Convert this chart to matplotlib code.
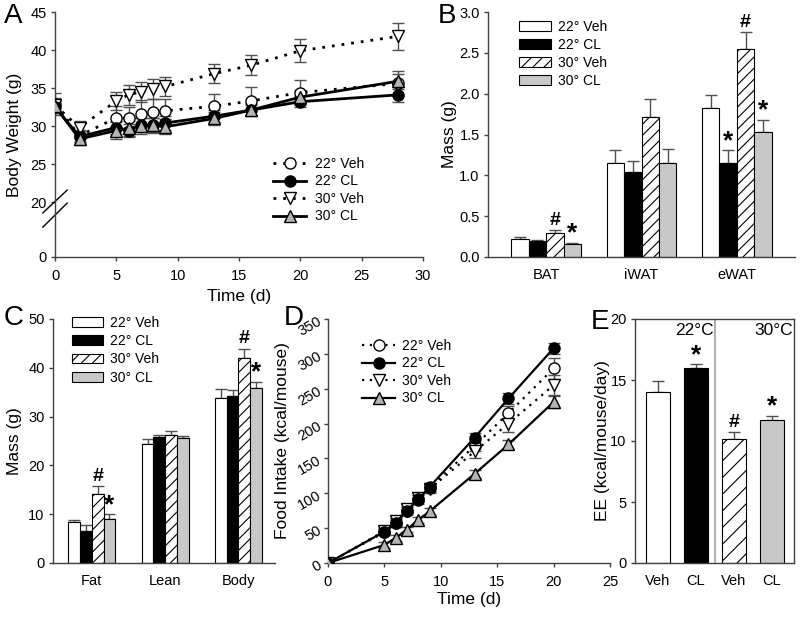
import matplotlib
matplotlib.use("Agg")
import matplotlib.pyplot as plt
import numpy as np
from matplotlib import lines as mlines
from matplotlib import patches as mpatches

plt.rcParams['font.family'] = ['Liberation Sans', 'DejaVu Sans']
plt.rcParams['hatch.linewidth'] = 0.8

# ---- panel A: body weight over time ----
bw_days = [0, 2, 5, 6, 7, 8, 9, 13, 16, 20, 28]
bw_22_veh = [32.9, 28.7, 31.1, 31.0, 31.6, 31.8, 32.0, 32.6, 33.3, 34.4, 35.6]
bw_22_veh_err = [1.5, 0.8, 1.5, 1.5, 1.8, 1.7, 1.5, 1.6, 1.8, 1.6, 1.6]
bw_22_cl = [32.5, 28.6, 29.8, 29.4, 30.1, 30.1, 30.4, 31.3, 32.1, 33.2, 34.1]
bw_22_cl_err = [0.8, 0.7, 0.9, 0.8, 0.9, 0.9, 0.9, 0.8, 0.7, 0.7, 1.0]
bw_30_veh = [32.7, 29.8, 33.3, 34.1, 34.5, 34.9, 35.2, 36.9, 38.0, 39.9, 41.8]
bw_30_veh_err = [1.0, 0.9, 1.2, 1.3, 1.3, 1.3, 1.3, 1.3, 1.3, 1.5, 1.8]
bw_30_cl = [32.6, 28.3, 29.4, 29.7, 30.0, 30.1, 29.9, 31.0, 32.1, 33.8, 35.9]
bw_30_cl_err = [0.8, 0.8, 1.1, 1.0, 1.0, 1.0, 1.0, 0.9, 0.8, 0.9, 1.0]

# ---- panel B: tissue mass ----
tissue_names = ["BAT", "iWAT", "eWAT"]
tissue_22_veh = [0.225, 1.145, 1.82]
tissue_22_veh_err = [0.025, 0.165, 0.16]
tissue_22_cl = [0.19, 1.035, 1.145]
tissue_22_cl_err = [0.02, 0.145, 0.16]
tissue_30_veh = [0.29, 1.72, 2.55]
tissue_30_veh_err = [0.04, 0.22, 0.2]
tissue_30_cl = [0.165, 1.145, 1.53]
tissue_30_cl_err = [0.01, 0.175, 0.15]

# ---- panel C: body composition ----
comp_names = ["Fat", "Lean", "Body"]
comp_22_veh = [8.3, 24.3, 33.9]
comp_22_veh_err = [0.6, 1.1, 1.7]
comp_22_cl = [6.6, 25.9, 34.2]
comp_22_cl_err = [1.2, 0.4, 1.2]
comp_30_veh = [14.2, 26.3, 42.0]
comp_30_veh_err = [1.6, 0.8, 1.9]
comp_30_cl = [9.0, 25.6, 35.9]
comp_30_cl_err = [1.0, 0.4, 1.2]

# ---- panel D: cumulative food intake ----
fi_days = [0, 5, 6, 7, 8, 9, 13, 16, 20]
fi_22_veh = [0, 44, 57, 75, 90, 108, 168, 215, 279]
fi_22_veh_err = [0, 4, 5, 5, 5, 6, 8, 10, 15]
fi_22_cl = [0, 45, 58, 75, 92, 109, 180, 236, 308]
fi_22_cl_err = [0, 4, 5, 5, 5, 6, 7, 8, 8]
fi_30_veh = [0, 46, 60, 78, 93, 106, 160, 200, 255]
fi_30_veh_err = [0, 4, 5, 5, 5, 6, 10, 12, 14]
fi_30_cl = [0, 26, 36, 48, 62, 74, 128, 170, 231]
fi_30_cl_err = [0, 4, 4, 4, 4, 5, 6, 6, 8]

# ---- panel E: energy expenditure ----
ee_labels = ["Veh", "CL", "Veh", "CL"]
ee_values = [14.0, 15.95, 10.2, 11.75]
ee_err = [0.9, 0.35, 0.5, 0.3]

group_labels = ["22° Veh", "22° CL", "30° Veh", "30° CL"]
GRAY = "#c8c8c8"
AXCOL = "#404040"
W, H = 800, 620


def px_axes(fig, left, top, right, bottom):
    return fig.add_axes([left / W, 1 - bottom / H, (right - left) / W, (bottom - top) / H])


def style_axes(ax, box=False):
    for side in ("left", "bottom", "top", "right"):
        ax.spines[side].set_color(AXCOL)
        ax.spines[side].set_linewidth(1.0)
    if not box:
        ax.spines["top"].set_visible(False)
        ax.spines["right"].set_visible(False)
    ax.tick_params(axis="both", colors=AXCOL, labelcolor="black", labelsize=10.5,
                   direction="out", length=3, width=1)
    ax.tick_params(axis="y", pad=3)
    ax.tick_params(axis="x", pad=6)


def panel_letter(fig, x, y, letter):
    fig.text(x / W, 1 - y / H, letter, fontsize=20, ha="left", va="top")


def line_series(ax, x, y, err, marker, face, dotted, lw, ms):
    ls = (0, (1, 2.5)) if dotted else "-"
    ax.errorbar(x, y, yerr=err, fmt="none", ecolor="#505050", elinewidth=1,
                capsize=4, capthick=1, zorder=2)
    ax.plot(x, y, linestyle=ls, color="black", linewidth=lw, marker=marker,
            markersize=ms, markerfacecolor=face, markeredgecolor="black",
            markeredgewidth=1, zorder=3)


def line_handles(lw, ms):
    specs = [("o", "white", True), ("o", "black", False),
             ("v", "white", True), ("^", "#b4b4b4", False)]
    handles = []
    for (marker, face, dotted), label in zip(specs, group_labels):
        ls = (0, (1, 2.5)) if dotted else "-"
        handles.append(mlines.Line2D([], [], linestyle=ls, color="black", linewidth=lw,
                                     marker=marker, markersize=ms, markerfacecolor=face,
                                     markeredgecolor="black", markeredgewidth=1, label=label))
    return handles


def bar_handles():
    faces = ["white", "black", "white", GRAY]
    hatches = [None, None, "///", None]
    return [mpatches.Patch(facecolor=f, edgecolor="black", linewidth=0.8, hatch=h, label=l)
            for f, h, l in zip(faces, hatches, group_labels)]


def grouped_bars(ax, series, errs, width, hatch):
    faces = ["white", "black", "white", GRAY]
    hatches = [None, None, hatch, None]
    n = len(series[0])
    x = np.arange(n)
    offsets = (np.arange(4) - 1.5) * width
    tops = []
    for i in range(4):
        xs = x + offsets[i]
        ax.bar(xs, series[i], width=width, color=faces[i], edgecolor="black",
               linewidth=0.8, hatch=hatches[i], zorder=2)
        ax.errorbar(xs, series[i], yerr=[np.zeros(n), errs[i]], fmt="none",
                    ecolor="#505050", elinewidth=1, capsize=4, capthick=1, zorder=1)
        tops.append((xs, np.array(series[i]) + np.array(errs[i])))
    return tops


def mark(ax, x, y, sym):
    size = 19 if sym == "*" else 14
    dy = -2 if sym == "*" else 1
    ax.annotate(sym, (x, y), xytext=(0, dy), textcoords="offset points",
                ha="center", va="bottom", fontsize=size, fontweight="bold")


fig = plt.figure(figsize=(8, 6.2), dpi=100)

# ---------------- A ----------------
ax = px_axes(fig, 55, 12, 423, 257)
style_axes(ax)


def fwd(y):
    y = np.asarray(y, dtype=float)
    return np.where(y < 20, y * 0.3618, y - 12.764)


def inv(z):
    z = np.asarray(z, dtype=float)
    return np.where(z < 7.236, z / 0.3618, z + 12.764)


ax.set_yscale("function", functions=(fwd, inv))
line_series(ax, bw_days, bw_22_veh, bw_22_veh_err, "o", "white", True, 2, 8)
line_series(ax, bw_days, bw_30_veh, bw_30_veh_err, "v", "white", True, 2, 8)
line_series(ax, bw_days, bw_22_cl, bw_22_cl_err, "o", "black", False, 2, 8)
line_series(ax, bw_days, bw_30_cl, bw_30_cl_err, "^", "#b4b4b4", False, 2, 8)
ax.set_xlim(0, 30)
ax.set_ylim(0, 45)
ax.set_xticks([0, 5, 10, 15, 20, 25, 30])
ax.set_yticks([0, 20, 25, 30, 35, 40, 45])
ax.set_xlabel("Time (d)", fontsize=12.5)
ax.set_ylabel("Body Weight (g)", fontsize=12.5)
ax.xaxis.set_label_coords(0.5, -0.13)
ax.yaxis.set_label_coords(-0.09, 0.5)
# axis break marks
ax.plot([-0.033, 0.033], [0.18, 0.273], color="black", lw=1, transform=ax.transAxes, clip_on=False)
ax.plot([-0.033, 0.033], [0.122, 0.22], color="black", lw=1, transform=ax.transAxes, clip_on=False)
ax.legend(handles=line_handles(2, 8), loc="upper left", frameon=False, fontsize=10,
          bbox_to_anchor=(273 / W, 1 - 157 / H), bbox_transform=fig.transFigure,
          borderaxespad=0, borderpad=0, handlelength=2.4, handletextpad=0.6,
          labelspacing=0.25, numpoints=1)
panel_letter(fig, 4, 3, "A")

# ---------------- B ----------------
ax = px_axes(fig, 488, 12, 795, 257)
style_axes(ax)
tops = grouped_bars(ax, [tissue_22_veh, tissue_22_cl, tissue_30_veh, tissue_30_cl],
                    [tissue_22_veh_err, tissue_22_cl_err, tissue_30_veh_err, tissue_30_cl_err],
                    0.182, "///")
ax.set_xlim(-0.61, 2.61)
ax.set_ylim(0, 3.0)
ax.set_yticks(np.arange(0, 3.01, 0.5))
ax.set_yticklabels([f"{v:.1f}" for v in np.arange(0, 3.01, 0.5)])
ax.set_xticks(range(len(tissue_names)))
ax.set_xticklabels(tissue_names)
ax.tick_params(axis="x", length=0, pad=8)
ax.set_ylabel("Mass (g)", fontsize=12.5)
ax.yaxis.set_label_coords(-0.10, 0.5)
mark(ax, tops[2][0][0], tops[2][1][0], "#")
mark(ax, tops[3][0][0], tops[3][1][0], "*")
mark(ax, tops[1][0][2], tops[1][1][2], "*")
mark(ax, tops[2][0][2], tops[2][1][2], "#")
mark(ax, tops[3][0][2], tops[3][1][2], "*")
ax.legend(handles=bar_handles(), loc="upper left", frameon=False, fontsize=10,
          bbox_to_anchor=(519 / W, 1 - 20 / H), bbox_transform=fig.transFigure,
          borderaxespad=0, borderpad=0, handlelength=2.3, handletextpad=0.5,
          labelspacing=0.28)
panel_letter(fig, 438, 3, "B")

# ---------------- C ----------------
ax = px_axes(fig, 53, 319, 275, 563)
style_axes(ax)
tops = grouped_bars(ax, [comp_22_veh, comp_22_cl, comp_30_veh, comp_30_cl],
                    [comp_22_veh_err, comp_22_cl_err, comp_30_veh_err, comp_30_cl_err],
                    0.16, "///")
ax.set_xlim(-0.53, 2.5)
ax.set_ylim(0, 50)
ax.set_yticks([0, 10, 20, 30, 40, 50])
ax.set_xticks(range(len(comp_names)))
ax.set_xticklabels(comp_names)
ax.tick_params(axis="x", length=0, pad=8)
ax.set_ylabel("Mass (g)", fontsize=12.5)
ax.yaxis.set_label_coords(-0.14, 0.5)
mark(ax, tops[2][0][0], tops[2][1][0], "#")
mark(ax, tops[3][0][0], tops[3][1][0], "*")
mark(ax, tops[2][0][2], tops[2][1][2], "#")
mark(ax, tops[3][0][2], tops[3][1][2], "*")
ax.legend(handles=bar_handles(), loc="upper left", frameon=False, fontsize=10,
          bbox_to_anchor=(72 / W, 1 - 316 / H), bbox_transform=fig.transFigure,
          borderaxespad=0, borderpad=0, handlelength=2.2, handletextpad=0.55,
          labelspacing=0.3)
panel_letter(fig, 4, 305, "C")

# ---------------- D ----------------
ax = px_axes(fig, 328, 319, 610, 563)
style_axes(ax)
line_series(ax, fi_days, fi_22_veh, fi_22_veh_err, "o", "white", True, 1.6, 8)
line_series(ax, fi_days, fi_30_veh, fi_30_veh_err, "v", "white", True, 1.6, 8)
line_series(ax, fi_days, fi_22_cl, fi_22_cl_err, "o", "black", False, 1.6, 8)
line_series(ax, fi_days, fi_30_cl, fi_30_cl_err, "^", "#b4b4b4", False, 1.6, 8)
ax.set_xlim(0, 25)
ax.set_ylim(0, 350)
ax.set_xticks([0, 5, 10, 15, 20, 25])
ax.set_yticks(range(0, 351, 50))
for lab in ax.get_yticklabels():
    lab.set_rotation(30)
    lab.set_rotation_mode("anchor")
    lab.set_ha("right")
ax.set_xlabel("Time (d)", fontsize=12.5)
ax.set_ylabel("Food Intake (kcal/mouse)", fontsize=12.5)
ax.xaxis.set_label_coords(0.5, -0.12)
ax.yaxis.set_label_coords(-0.135, 0.5)
ax.legend(handles=line_handles(1.6, 8), loc="upper left", frameon=False, fontsize=10,
          bbox_to_anchor=(362 / W, 1 - 339 / H), bbox_transform=fig.transFigure,
          borderaxespad=0, borderpad=0, handlelength=2.4, handletextpad=0.5,
          labelspacing=0.25, numpoints=1)
panel_letter(fig, 284, 305, "D")

# ---------------- E ----------------
ax = px_axes(fig, 635, 319, 794, 563)
style_axes(ax, box=True)
ee_x = np.arange(len(ee_values))
faces = ["white", "black", "white", GRAY]
hatches = [None, None, "//", None]
for i in range(len(ee_values)):
    ax.bar(ee_x[i], ee_values[i], width=0.63, color=faces[i], edgecolor="black",
           linewidth=0.8, hatch=hatches[i], zorder=2)
ax.errorbar(ee_x, ee_values, yerr=[np.zeros(len(ee_err)), ee_err], fmt="none",
            ecolor="#505050", elinewidth=1, capsize=4, capthick=1, zorder=1)
ax.axvline(1.5, color="#a0a0a0", lw=1.2)
ax.set_xlim(-0.6, 3.58)
ax.set_ylim(0, 20)
ax.set_yticks([0, 5, 10, 15, 20])
ax.set_xticks(ee_x)
ax.set_xticklabels(ee_labels)
ax.tick_params(axis="x", length=0, pad=8)
ax.tick_params(axis="y", right=False)
ax.set_ylabel("EE (kcal/mouse/day)", fontsize=12.5)
ax.yaxis.set_label_coords(-0.157, 0.5)
ee_tops = np.array(ee_values) + np.array(ee_err)
mark(ax, ee_x[1], ee_tops[1], "*")
mark(ax, ee_x[2], ee_tops[2], "#")
mark(ax, ee_x[3], ee_tops[3], "*")
ax.text(1.46, 19.7, "22°C", ha="right", va="top", fontsize=12.5)
ax.text(3.55, 19.7, "30°C", ha="right", va="top", fontsize=12.5)
panel_letter(fig, 591, 309, "E")

fig.savefig("out.png", dpi=100)
